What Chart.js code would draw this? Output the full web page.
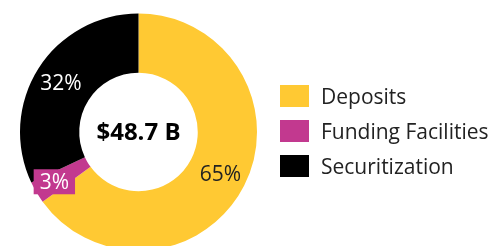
<!DOCTYPE html>
<html>
<head>
<meta charset="utf-8">
<script src="https://cdn.jsdelivr.net/npm/chart.js@4/dist/chart.umd.min.js"></script>
<style>
  html, body { margin: 0; padding: 0; background: #fff; width: 492px; height: 246px; overflow: hidden; }
  #wrap { position: relative; width: 492px; height: 246px; overflow: hidden; }
  canvas { position: absolute; left: 0; top: 0; }
  #legend { position: absolute; left: 280px; top: 85px; font-family: "Open Sans", sans-serif; font-size: 21px; color: #222; }
  .item { display: flex; align-items: center; height: 22px; margin-bottom: 13px; }
  .sw { width: 29px; height: 22px; margin-right: 12px; flex: none; }
</style>
</head>
<body>
<div id="wrap">
  <canvas id="c" width="492" height="264"></canvas>
  <div id="legend"></div>
</div>
<script>
const categories = ["Deposits", "Funding Facilities", "Securitization"];
const shares = [65, 3, 32];
const valueLabels = ["65%", "3%", "32%"];
const colors = ["#FFC933", "#C2398F", "#000000"];
const centerText = "$48.7 B";

const leg = document.getElementById('legend');
categories.forEach((c, i) => {
  const d = document.createElement('div');
  d.className = 'item';
  d.innerHTML = '<span class="sw" style="background:' + colors[i] + '"></span><span>' + c + '</span>';
  leg.appendChild(d);
});

const labelPlugin = {
  id: 'labels',
  afterDatasetsDraw(chart) {
    const ctx = chart.ctx;
    const meta = chart.getDatasetMeta(0);
    ctx.save();
    ctx.textAlign = 'center';
    ctx.textBaseline = 'middle';
    ctx.font = '21px "Open Sans"';
    meta.data.forEach((arc, i) => {
      const pr = arc.getProps(['x', 'y', 'startAngle', 'endAngle', 'innerRadius', 'outerRadius']);
      const mid = (pr.startAngle + pr.endAngle) / 2;
      const f = i === 1 ? 0.65 : 0.55;
      const r = pr.innerRadius + (pr.outerRadius - pr.innerRadius) * f;
      const px = pr.x + Math.cos(mid) * r;
      const py = pr.y + Math.sin(mid) * r;
      const t = valueLabels[i];
      if (i === 1) {
        const w = ctx.measureText(t).width;
        ctx.fillStyle = colors[1];
        ctx.fillRect(px - w / 2 - 6, py - 12.5, w + 12, 25);
        ctx.fillStyle = '#ffffff';
      } else if (i === 2) {
        ctx.fillStyle = '#ffffff';
      } else {
        ctx.fillStyle = '#222222';
      }
      ctx.fillText(t, px, py + 1);
    });
    const ca = chart.chartArea;
    ctx.font = 'bold 24px "Open Sans"';
    ctx.fillStyle = '#000000';
    ctx.fillText(centerText, (ca.left + ca.right) / 2, (ca.top + ca.bottom) / 2 + 1);
    ctx.restore();
  }
};

new Chart(document.getElementById('c'), {
  type: 'doughnut',
  data: {
    labels: categories,
    datasets: [{
      data: shares,
      backgroundColor: colors,
      borderWidth: 0,
      hoverOffset: 0
    }]
  },
  options: {
    responsive: false,
    animation: false,
    cutout: '50%',
    layout: { padding: { left: 20, right: 235, top: 13.5, bottom: 13.5 } },
    plugins: { legend: { display: false }, tooltip: { enabled: false } }
  },
  plugins: [labelPlugin]
});
</script>
</body>
</html>
